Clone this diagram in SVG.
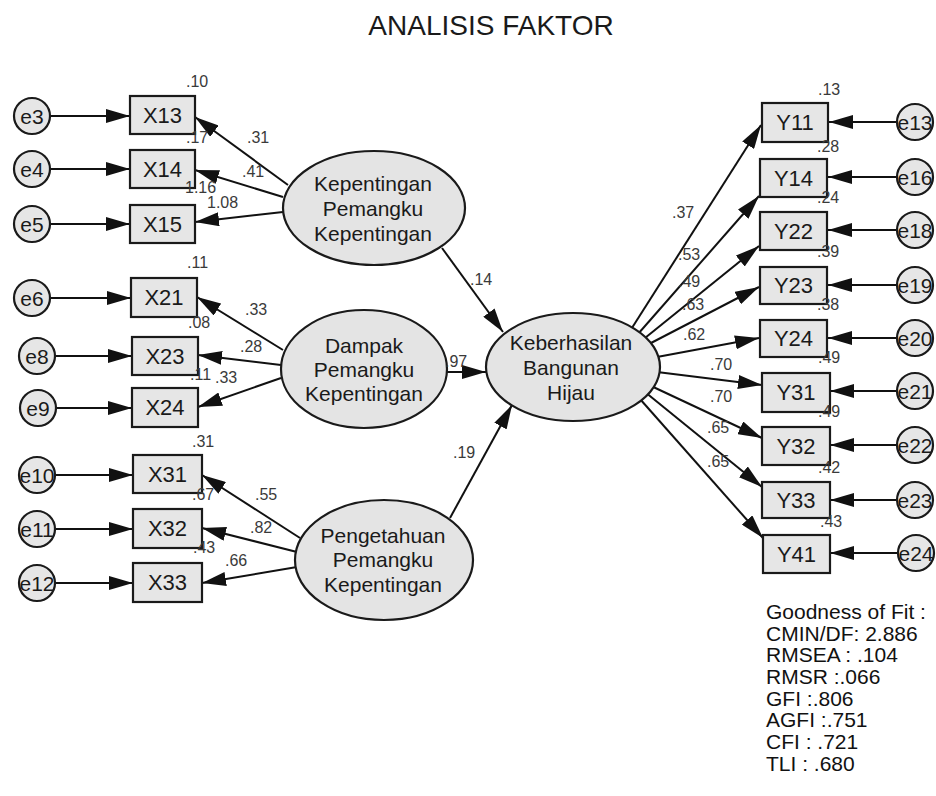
<svg xmlns="http://www.w3.org/2000/svg" width="936" height="796" viewBox="0 0 936 796">
<defs>
<style>
.box{fill:#e6e6e6;stroke:#1a1a1a;stroke-width:2.2}
.ell{fill:#e4e4e4;stroke:#1a1a1a;stroke-width:2.2}
.t{font-family:"Liberation Sans",Arial,sans-serif;fill:#1a1a1a;text-anchor:middle}
.bt{font-size:22px}
.et{font-size:21px}
.ct{font-size:21px}
.lbl{font-family:"Liberation Sans",Arial,sans-serif;font-size:16px;fill:#3a3a3a}
.fit{font-family:"Liberation Sans",Arial,sans-serif;font-size:21px;fill:#111}
.c line{stroke:#111;stroke-width:2;marker-end:url(#ah)}
</style>
<marker id="ah" markerUnits="userSpaceOnUse" markerWidth="24" markerHeight="14" refX="24" refY="7" orient="auto"><path d="M0,0 L24,7 L0,14 z" fill="#111"/></marker>
</defs>
<rect width="936" height="796" fill="#fff"/>
<text x="491" y="35" class="t" style="font-size:28px">ANALISIS FAKTOR</text>

<g id="connectors" class="c">
<line x1="50" y1="116" x2="130" y2="116"/>
<line x1="50" y1="169" x2="130" y2="169"/>
<line x1="50" y1="224" x2="130" y2="224"/>
<line x1="50" y1="298" x2="131" y2="298"/>
<line x1="55" y1="356" x2="132" y2="356"/>
<line x1="56" y1="408" x2="132" y2="408"/>
<line x1="55" y1="475" x2="133" y2="475"/>
<line x1="55" y1="529" x2="133" y2="529"/>
<line x1="55" y1="583" x2="133" y2="583"/>
<line x1="288" y1="185" x2="195" y2="117"/>
<line x1="283" y1="197" x2="195" y2="170"/>
<line x1="283" y1="212" x2="195" y2="222"/>
<line x1="283" y1="350" x2="197" y2="297"/>
<line x1="281" y1="365" x2="198" y2="355"/>
<line x1="281" y1="378" x2="198" y2="407"/>
<line x1="300" y1="538" x2="202" y2="475"/>
<line x1="297" y1="552" x2="202" y2="528"/>
<line x1="297" y1="567" x2="202" y2="583"/>
<line x1="442" y1="248" x2="503" y2="332"/>
<line x1="447" y1="372" x2="486" y2="372"/>
<line x1="450" y1="518" x2="512" y2="405"/>
<line x1="630" y1="331" x2="761" y2="125"/>
<line x1="638" y1="334" x2="759" y2="196"/>
<line x1="645" y1="338" x2="759" y2="246"/>
<line x1="651" y1="343" x2="759" y2="287"/>
<line x1="657" y1="357" x2="759" y2="338"/>
<line x1="657" y1="372" x2="762" y2="385"/>
<line x1="649" y1="385" x2="762" y2="438"/>
<line x1="645" y1="392" x2="762" y2="487"/>
<line x1="640" y1="399" x2="763" y2="538"/>
<line x1="897" y1="122" x2="829" y2="122"/>
<line x1="897" y1="177" x2="828" y2="177"/>
<line x1="897" y1="230" x2="828" y2="230"/>
<line x1="897" y1="285" x2="828" y2="285"/>
<line x1="897" y1="338" x2="828" y2="338"/>
<line x1="897" y1="391" x2="830" y2="391"/>
<line x1="897" y1="445" x2="830" y2="445"/>
<line x1="897" y1="500" x2="830" y2="500"/>
<line x1="897" y1="553" x2="830" y2="553"/>
</g>

<g id="e3"><circle cx="32" cy="116" r="18" class="box"/><text x="32" y="124" class="t ct">e3</text></g>
<g id="e4"><circle cx="32" cy="169" r="18" class="box"/><text x="32" y="177" class="t ct">e4</text></g>
<g id="e5"><circle cx="32" cy="224" r="18" class="box"/><text x="32" y="232" class="t ct">e5</text></g>
<g id="e6"><circle cx="32" cy="298" r="18" class="box"/><text x="32" y="306" class="t ct">e6</text></g>
<g id="e8"><circle cx="37" cy="356" r="18" class="box"/><text x="37" y="364" class="t ct">e8</text></g>
<g id="e9"><circle cx="38" cy="408" r="18" class="box"/><text x="38" y="416" class="t ct">e9</text></g>
<g id="e10"><circle cx="37" cy="475" r="18" class="box"/><text x="37" y="483" class="t ct">e10</text></g>
<g id="e11"><circle cx="37" cy="529" r="18" class="box"/><text x="37" y="537" class="t ct">e11</text></g>
<g id="e12"><circle cx="37" cy="583" r="18" class="box"/><text x="37" y="591" class="t ct">e12</text></g>

<g id="X13"><rect x="130" y="96" width="65" height="38" class="box"/><text x="162.5" y="123" class="t bt">X13</text></g>
<g id="X14"><rect x="130" y="150" width="65" height="38" class="box"/><text x="162.5" y="177" class="t bt">X14</text></g>
<g id="X15"><rect x="130" y="205" width="65" height="38" class="box"/><text x="162.5" y="232" class="t bt">X15</text></g>
<g id="X21"><rect x="131" y="278" width="66" height="39" class="box"/><text x="164" y="305" class="t bt">X21</text></g>
<g id="X23"><rect x="132" y="337" width="66" height="38" class="box"/><text x="165" y="364" class="t bt">X23</text></g>
<g id="X24"><rect x="132" y="388" width="66" height="39" class="box"/><text x="165" y="415" class="t bt">X24</text></g>
<g id="X31"><rect x="133" y="455" width="69" height="38" class="box"/><text x="167.5" y="482" class="t bt">X31</text></g>
<g id="X32"><rect x="133" y="509" width="69" height="39" class="box"/><text x="167.5" y="536" class="t bt">X32</text></g>
<g id="X33"><rect x="133" y="563" width="69" height="39" class="box"/><text x="167.5" y="590" class="t bt">X33</text></g>

<g id="kepentingan"><ellipse cx="374" cy="208" rx="91" ry="57" class="ell"/><text class="t et"><tspan x="373" y="191">Kepentingan</tspan><tspan x="373" y="216">Pemangku</tspan><tspan x="373" y="241">Kepentingan</tspan></text></g>
<g id="dampak"><ellipse cx="364" cy="369" rx="83" ry="59" class="ell"/><text class="t et"><tspan x="364" y="353">Dampak</tspan><tspan x="364" y="377">Pemangku</tspan><tspan x="364" y="401">Kepentingan</tspan></text></g>
<g id="pengetahuan"><ellipse cx="384" cy="560" rx="89" ry="60" class="ell"/><text class="t et"><tspan x="383" y="543">Pengetahuan</tspan><tspan x="383" y="567">Pemangku</tspan><tspan x="383" y="592">Kepentingan</tspan></text></g>
<g id="keberhasilan"><ellipse cx="573" cy="367" rx="87" ry="54" class="ell"/><text class="t et"><tspan x="571" y="350">Keberhasilan</tspan><tspan x="571" y="375">Bangunan</tspan><tspan x="571" y="400">Hijau</tspan></text></g>

<g id="Y11"><rect x="762" y="103" width="66" height="39" class="box"/><text x="795" y="130" class="t bt">Y11</text></g>
<g id="Y14"><rect x="760" y="159" width="67" height="38" class="box"/><text x="793.5" y="186" class="t bt">Y14</text></g>
<g id="Y22"><rect x="760" y="212" width="67" height="38" class="box"/><text x="793.5" y="239" class="t bt">Y22</text></g>
<g id="Y23"><rect x="760" y="267" width="67" height="37" class="box"/><text x="793.5" y="293" class="t bt">Y23</text></g>
<g id="Y24"><rect x="760" y="320" width="67" height="37" class="box"/><text x="793.5" y="346" class="t bt">Y24</text></g>
<g id="Y31"><rect x="762" y="373" width="68" height="39" class="box"/><text x="796" y="400" class="t bt">Y31</text></g>
<g id="Y32"><rect x="762" y="427" width="68" height="38" class="box"/><text x="796" y="454" class="t bt">Y32</text></g>
<g id="Y33"><rect x="762" y="482" width="68" height="36" class="box"/><text x="796" y="508" class="t bt">Y33</text></g>
<g id="Y41"><rect x="763" y="535" width="67" height="38" class="box"/><text x="796.5" y="562" class="t bt">Y41</text></g>

<g id="e13"><circle cx="915" cy="122" r="18" class="box"/><text x="915" y="130" class="t ct">e13</text></g>
<g id="e16"><circle cx="915" cy="177" r="18" class="box"/><text x="915" y="185" class="t ct">e16</text></g>
<g id="e18"><circle cx="915" cy="230" r="18" class="box"/><text x="915" y="238" class="t ct">e18</text></g>
<g id="e19"><circle cx="915" cy="285" r="18" class="box"/><text x="915" y="293" class="t ct">e19</text></g>
<g id="e20"><circle cx="915" cy="338" r="18" class="box"/><text x="915" y="346" class="t ct">e20</text></g>
<g id="e21"><circle cx="915" cy="391" r="18" class="box"/><text x="915" y="399" class="t ct">e21</text></g>
<g id="e22"><circle cx="915" cy="445" r="18" class="box"/><text x="915" y="453" class="t ct">e22</text></g>
<g id="e23"><circle cx="915" cy="500" r="18" class="box"/><text x="915" y="508" class="t ct">e23</text></g>
<g id="e24"><circle cx="916" cy="553" r="18" class="box"/><text x="916" y="561" class="t ct">e24</text></g>

<g id="labels" class="lbl">
<text x="186" y="87">.10</text>
<text x="186" y="143">.17</text>
<text x="247" y="143">.31</text>
<text x="242" y="177">.41</text>
<text x="185" y="193">1.16</text>
<text x="207" y="208">1.08</text>
<text x="187" y="268">.11</text>
<text x="188" y="328">.08</text>
<text x="245" y="315">.33</text>
<text x="240" y="352">.28</text>
<text x="190" y="380">.11</text>
<text x="215" y="383">.33</text>
<text x="192" y="447">.31</text>
<text x="192" y="500">.67</text>
<text x="255" y="500">.55</text>
<text x="250" y="533">.82</text>
<text x="193" y="553">.43</text>
<text x="225" y="566">.66</text>
<text x="470" y="285">.14</text>
<text x="445" y="367">.97</text>
<text x="453" y="458">.19</text>
<text x="818" y="95">.13</text>
<text x="817" y="152">.28</text>
<text x="817" y="203">.24</text>
<text x="817" y="257">.39</text>
<text x="817" y="310">.38</text>
<text x="818" y="363">.49</text>
<text x="818" y="417">.49</text>
<text x="818" y="473">.42</text>
<text x="820" y="527">.43</text>
<text x="672" y="218">.37</text>
<text x="678" y="260">.53</text>
<text x="678" y="287">.49</text>
<text x="682" y="310">.63</text>
<text x="683" y="340">.62</text>
<text x="710" y="370">.70</text>
<text x="710" y="402">.70</text>
<text x="707" y="433">.65</text>
<text x="707" y="467">.65</text>
</g>

<g id="fit" class="fit">
<text x="766" y="619">Goodness of Fit :</text>
<text x="766" y="641">CMIN/DF: 2.886</text>
<text x="766" y="662">RMSEA : .104</text>
<text x="766" y="684">RMSR :.066</text>
<text x="766" y="706">GFI :.806</text>
<text x="766" y="727">AGFI :.751</text>
<text x="766" y="749">CFI : .721</text>
<text x="766" y="771">TLI : .680</text>
</g>
</svg>
